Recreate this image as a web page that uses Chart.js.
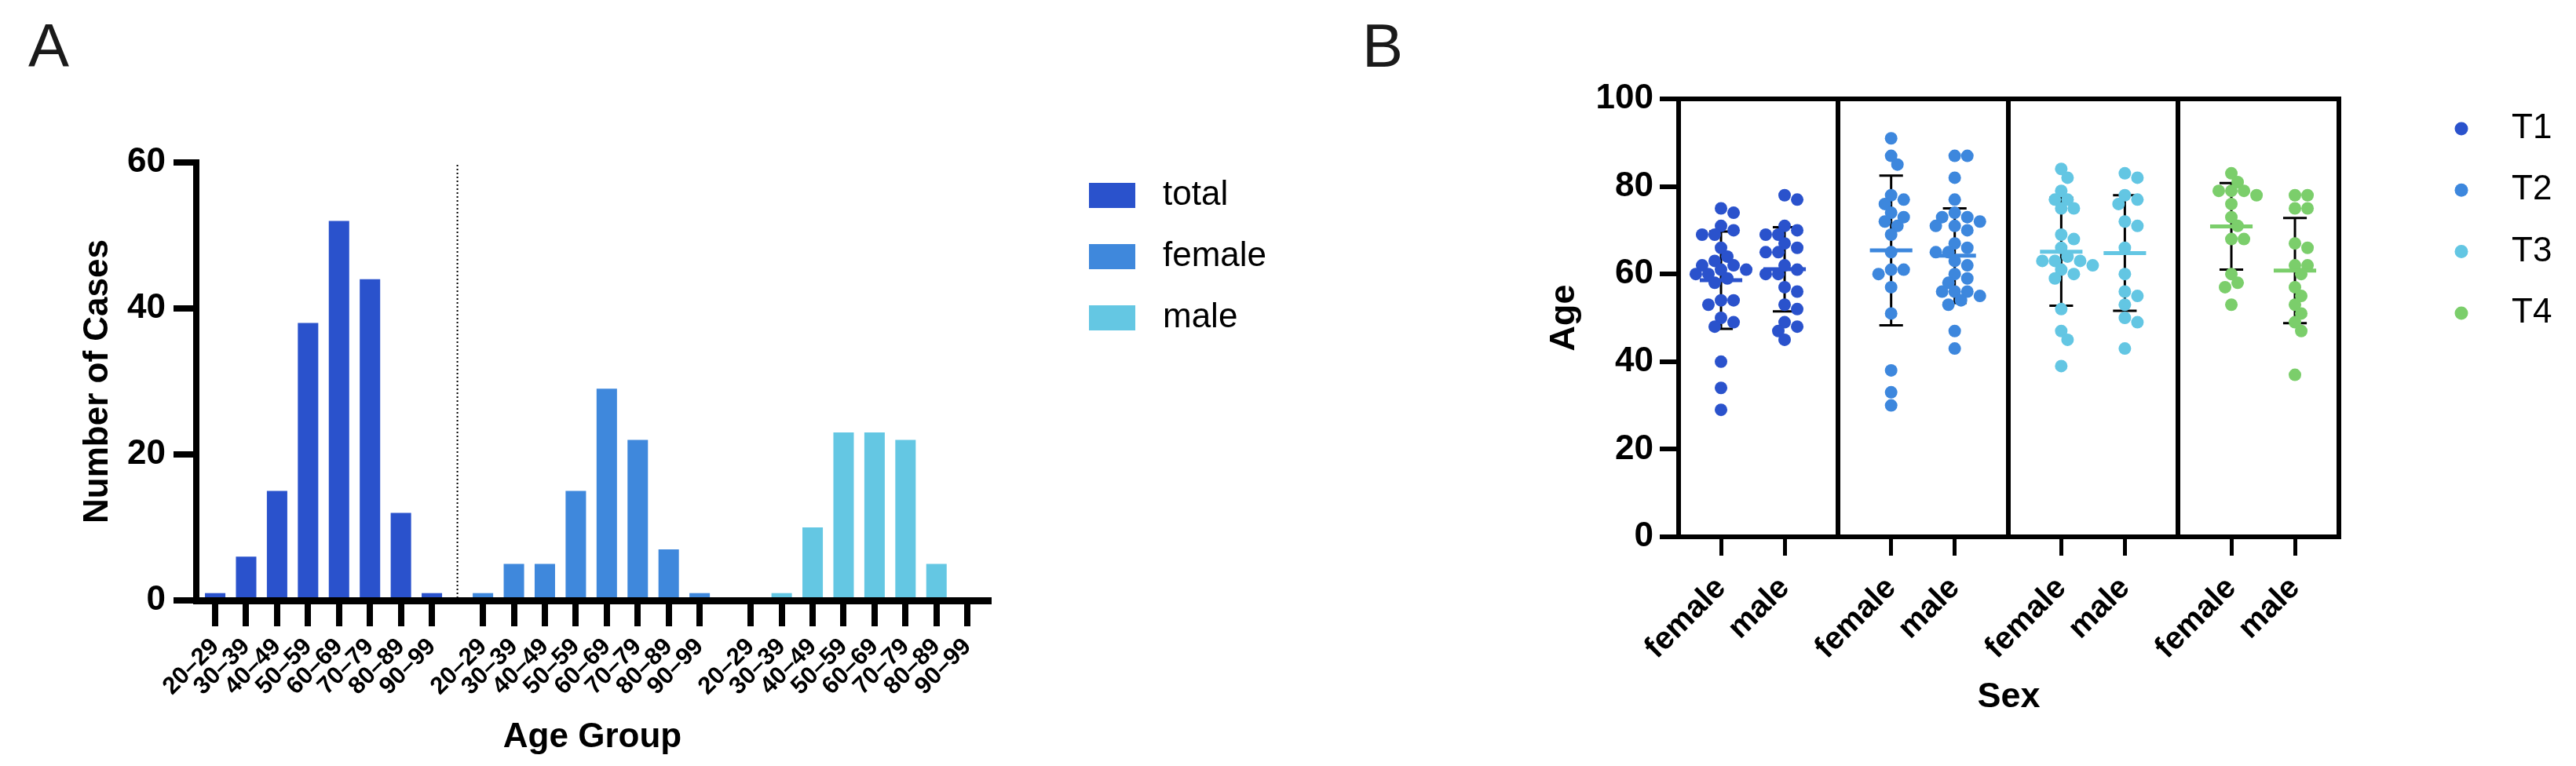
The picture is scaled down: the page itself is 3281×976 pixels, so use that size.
<!DOCTYPE html>
<html lang="en">
<head>
<meta charset="UTF-8">
<title>Age distribution of cases</title>
<script src="https://cdn.jsdelivr.net/npm/chart.js@4.4.1/dist/chart.umd.min.js"></script>
<style>
  html, body { margin: 0; padding: 0; background: #fff; }
  body { width: 3281px; height: 976px; position: relative; overflow: hidden; font-family: 'Liberation Sans', Arial, sans-serif; }
  .panel-label { position: absolute; top: 19px; font-size: 78px; line-height: 78px; color: #1a1a1a; }
  canvas { position: absolute; top: 0; }
</style>
</head>
<body>
<div class="panel-label" style="left:36px">A</div>
<div class="panel-label" style="left:1735px">B</div>
<canvas id="chartA" width="1650" height="976" style="left:0"></canvas>
<canvas id="chartB" width="1631" height="976" style="left:1650px"></canvas>

<script>
// ---- panel A: number of cases per age group ----
const ageGroups = ['20\u201329', '30\u201339', '40\u201349', '50\u201359', '60\u201369', '70\u201379', '80\u201389', '90\u201399'];
const caseSeries = ['total', 'female', 'male'];
const totalCases = [1, 6, 15, 38, 52, 44, 12, 1];
const femaleCases = [1, 5, 5, 15, 29, 22, 7, 1];
const maleCases = [0, 1, 10, 23, 23, 22, 5, 0];
const caseColors = ['#2a52cc', '#3f88dc', '#64c7e3'];

// ---- panel B: age by stage and sex ----
const stages = ['T1', 'T2', 'T3', 'T4'];
const sexes = ['female', 'male'];
const stageColors = ['#2a52cc', '#3d87dd', '#63c6e3', '#7bce6b'];
const t1Female = [75, 74, 71, 70, 69, 69, 66, 64, 63, 62, 62, 61, 61, 60, 60, 59, 58, 54, 54, 53, 50, 49, 48, 40, 34, 29];
const t1Male = [78, 77, 71, 70, 69, 69, 67, 66, 65, 65, 62, 61, 60, 60, 57, 56, 53, 52, 49, 48, 47, 45];
const t2Female = [91, 87, 85, 78, 77, 76, 74, 73, 72, 71, 69, 65, 61, 61, 60, 57, 51, 38, 33, 30];
const t2Male = [87, 87, 82, 77, 74, 73, 73, 72, 71, 71, 70, 67, 66, 65, 65, 63, 62, 60, 59, 58, 56, 56, 56, 55, 54, 53, 47, 43];
const t3Female = [84, 82, 79, 77, 77, 75, 75, 69, 68, 66, 64, 63, 63, 63, 62, 61, 60, 59, 52, 47, 45, 39];
const t3Male = [83, 82, 78, 77, 76, 72, 71, 66, 60, 56, 55, 53, 50, 49, 43];
const t4Female = [83, 81, 79, 79, 79, 78, 76, 73, 71, 68, 68, 60, 58, 57, 53];
const t4Male = [78, 78, 75, 75, 67, 66, 62, 62, 60, 57, 55, 53, 51, 49, 47, 37];
const meanFemale = [58.6, 65.4, 65.1, 70.9];
const meanMale = [61.1, 64.2, 64.8, 60.8];
const sdFemale = [11.1, 17.1, 12.3, 9.9];
const sdMale = [9.6, 10.8, 13.2, 12.0];

const FONT = "'Liberation Sans', Arial, sans-serif";
Chart.defaults.font.family = FONT;
Chart.defaults.color = '#000';

// spacing between the first slots of neighbouring groups, in slot units
const GROUP_GAP_A = 8.65;
const GROUP_GAP_B = 2.675;

const barX = (g, i) => g * GROUP_GAP_A + i;
const slotX = (g, s) => g * GROUP_GAP_B + s;

// draws legend entries for datasets flagged with showInLegend
const sideLegend = {
  id: 'sideLegend',
  afterDraw(chart, args, opts) {
    const ctx = chart.ctx;
    const items = chart.data.datasets.filter(d => d.showInLegend);
    ctx.save();
    ctx.font = '44px ' + FONT;
    ctx.textBaseline = 'middle';
    items.forEach((d, i) => {
      const y = opts.y + i * opts.step;
      ctx.fillStyle = d.backgroundColor;
      if (opts.marker === 'dot') {
        ctx.beginPath();
        ctx.arc(opts.x, y, opts.size / 2, 0, Math.PI * 2);
        ctx.fill();
      } else {
        ctx.fillRect(opts.x, y - opts.boxH / 2, opts.size, opts.boxH);
      }
      ctx.fillStyle = '#000';
      ctx.fillText(d.label, opts.textX, y);
    });
    ctx.restore();
  }
};

// dotted line between the total and female groups
const groupDivider = {
  id: 'groupDivider',
  afterDatasetsDraw(chart, args, opts) {
    const x = chart.scales.x.getPixelForValue(opts.value);
    const {top, bottom} = chart.chartArea;
    const ctx = chart.ctx;
    ctx.save();
    ctx.strokeStyle = '#000';
    ctx.lineWidth = 2;
    ctx.setLineDash([2, 3]);
    ctx.beginPath();
    ctx.moveTo(x, top + 3);
    ctx.lineTo(x, bottom);
    ctx.stroke();
    ctx.restore();
  }
};

// Panel A
const caseData = [totalCases, femaleCases, maleCases];
new Chart(document.getElementById('chartA'), {
  type: 'bar',
  data: {
    datasets: caseSeries.map((name, g) => ({
      label: name,
      showInLegend: true,
      data: caseData[g].map((v, i) => ({x: barX(g, i), y: v})),
      backgroundColor: caseColors[g],
      borderWidth: 0,
      grouped: false,
      barPercentage: 0.66,
      categoryPercentage: 1
    }))
  },
  options: {
    responsive: false,
    animation: false,
    devicePixelRatio: 1,
    layout: { padding: { left: 98, top: 207, right: 391, bottom: 10 } },
    plugins: {
      legend: { display: false },
      tooltip: { enabled: false },
      groupDivider: { value: (barX(0, 7) + barX(1, 0)) / 2 },
      sideLegend: { x: 1387, y: 249, step: 78, size: 59, boxH: 32, textX: 1481 }
    },
    scales: {
      x: {
        type: 'linear',
        offset: false,
        min: -0.61,
        max: 24.98,
        afterBuildTicks: s => {
          s.ticks = caseSeries.flatMap((_, g) => ageGroups.map((_, i) => ({value: barX(g, i)})));
        },
        afterFit: s => { s.height = 201; },
        ticks: {
          autoSkip: false,
          minRotation: 45,
          maxRotation: 45,
          padding: 8,
          font: { size: 31, weight: 'bold' },
          callback: (v, i) => ageGroups[i % ageGroups.length]
        },
        grid: { offset: false, drawOnChartArea: false, color: '#000', lineWidth: 8, tickLength: 33 },
        border: { color: '#000', width: 9, z: 1 },
        title: { display: true, text: 'Age Group', font: { size: 44, weight: 'bold' }, padding: 0 }
      },
      y: {
        min: 0,
        max: 60,
        afterFit: s => { s.width = 152; },
        ticks: { stepSize: 20, padding: 10, font: { size: 44, weight: 'bold' } },
        grid: { drawOnChartArea: false, color: '#000', lineWidth: 8, tickLength: 29 },
        border: { color: '#000', width: 8, z: 1 },
        title: { display: true, text: 'Number of Cases', font: { size: 44, weight: 'bold' }, padding: 0 }
      }
    }
  },
  plugins: [groupDivider, sideLegend]
});

// Panel B
const ageLists = [[t1Female, t1Male], [t2Female, t2Male], [t3Female, t3Male], [t4Female, t4Male]];
const meanLists = [meanFemale, meanMale];
const sdLists = [sdFemale, sdMale];

// spread dots sideways so that they do not sit on top of each other
const PX_PER_X = 80.8, PX_PER_Y = 5.585, DOT = 16;
function swarmOffsets(values) {
  const placed = [];
  const offsets = [];
  values.map((v, i) => i).sort((a, b) => values[b] - values[a]).forEach(i => {
    const py = values[i] * PX_PER_Y;
    for (let k = 0; k < 60; k++) {
      const px = (k % 2 ? 1 : -1) * Math.ceil(k / 2) * DOT * 0.5;
      if (placed.every(p => Math.hypot(p[0] - px, p[1] - py) >= DOT * 0.82)) {
        placed.push([px, py]);
        offsets[i] = px / PX_PER_X;
        break;
      }
    }
  });
  return offsets;
}

const MEAN_HALF = 0.334, CAP_HALF = 0.186;
const dotSets = stages.map((name, g) => ({
  type: 'scatter',
  label: name,
  showInLegend: true,
  order: 2,
  data: sexes.flatMap((_, s) => {
    const vals = ageLists[g][s];
    const off = swarmOffsets(vals);
    return vals.map((v, i) => ({x: slotX(g, s) + off[i], y: v}));
  }),
  backgroundColor: stageColors[g],
  borderWidth: 0,
  pointRadius: 8,
  pointHoverRadius: 8
}));

const meanSets = stages.map((name, g) => ({
  type: 'line',
  label: name + ' mean',
  order: 1,
  data: sexes.flatMap((_, s) => {
    const c = slotX(g, s), m = meanLists[s][g];
    return [{x: c - MEAN_HALF, y: m}, {x: c + MEAN_HALF, y: m}, {x: c + 0.5, y: null}];
  }),
  borderColor: stageColors[g],
  borderWidth: 5,
  borderCapStyle: 'butt',
  pointRadius: 0,
  tension: 0
}));

const errorSet = {
  type: 'line',
  label: 'SD',
  order: 3,
  data: stages.flatMap((_, g) => sexes.flatMap((_, s) => {
    const c = slotX(g, s), lo = meanLists[s][g] - sdLists[s][g], hi = meanLists[s][g] + sdLists[s][g];
    return [
      {x: c - CAP_HALF, y: lo}, {x: c + CAP_HALF, y: lo}, {x: c, y: null},
      {x: c, y: lo}, {x: c, y: hi}, {x: c, y: null},
      {x: c - CAP_HALF, y: hi}, {x: c + CAP_HALF, y: hi}, {x: c, y: null}
    ];
  })),
  borderColor: '#000',
  borderWidth: 3,
  borderCapStyle: 'butt',
  pointRadius: 0,
  tension: 0
};

const B_MIN = -0.667, B_MAX = 9.716;
new Chart(document.getElementById('chartB'), {
  type: 'scatter',
  data: { datasets: [...meanSets, ...dotSets, errorSet] },
  options: {
    responsive: false,
    animation: false,
    devicePixelRatio: 1,
    layout: { padding: { left: 316, top: 126, right: 302, bottom: 60 } },
    plugins: {
      legend: { display: false },
      tooltip: { enabled: false },
      sideLegend: { marker: 'dot', x: 1485, y: 164, step: 78.3, size: 17, textX: 1549 }
    },
    scales: {
      x: {
        type: 'linear',
        min: B_MIN,
        max: B_MAX,
        afterBuildTicks: s => {
          s.ticks = stages.flatMap((_, g) => sexes.map((_, k) => ({value: slotX(g, k)})));
        },
        afterFit: s => { s.height = 232; },
        ticks: {
          autoSkip: false,
          minRotation: 45,
          maxRotation: 45,
          padding: 18,
          font: { size: 40, weight: 'bold' },
          callback: (v, i) => sexes[i % sexes.length]
        },
        grid: { drawOnChartArea: false, color: '#000', lineWidth: 5, tickLength: 24 },
        border: { color: '#000', width: 6, z: 1 },
        title: { display: true, text: 'Sex', font: { size: 45, weight: 'bold' }, padding: 0 }
      },
      y: {
        min: 0,
        max: 100,
        afterFit: s => { s.width = 172; },
        ticks: { stepSize: 20, padding: 8, font: { size: 44, weight: 'bold' } },
        grid: { drawOnChartArea: false, color: '#000', lineWidth: 6, tickLength: 24 },
        border: { color: '#000', width: 6, z: 1 },
        title: { display: true, text: 'Age', font: { size: 45, weight: 'bold' }, padding: 0 }
      },
      xTop: {
        type: 'linear',
        axis: 'x',
        position: 'top',
        min: B_MIN,
        max: B_MAX,
        afterBuildTicks: s => {
          s.ticks = stages.slice(1).map((_, g) => ({value: (slotX(g, 1) + slotX(g + 1, 0)) / 2}));
        },
        afterFit: s => { s.height = 0; },
        ticks: { display: false },
        grid: { drawOnChartArea: true, drawTicks: false, color: '#000', lineWidth: 6 },
        border: { color: '#000', width: 6 }
      },
      yRight: {
        type: 'linear',
        axis: 'y',
        position: 'right',
        min: 0,
        max: 100,
        afterFit: s => { s.width = 0; },
        ticks: { display: false },
        grid: { display: false },
        border: { color: '#000', width: 6 }
      }
    }
  },
  plugins: [sideLegend]
});
</script>
</body>
</html>
